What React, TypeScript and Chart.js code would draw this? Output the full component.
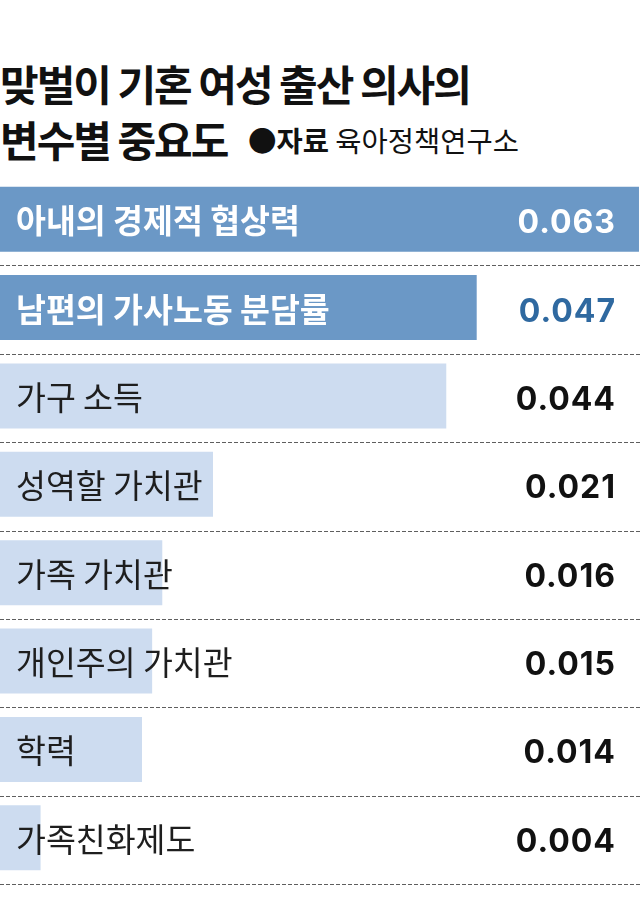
import React, { useEffect, useRef } from "react";
import { Chart, registerables } from "chart.js";

Chart.register(...registerables);

const titleLines = ["맞벌이 기혼 여성 출산 의사의", "변수별 중요도"];
const sourceLabel = "●자료";
const sourceName = "육아정책연구소";

const categories = [
  "아내의 경제적 협상력",
  "남편의 가사노동 분담률",
  "가구 소득",
  "성역할 가치관",
  "가족 가치관",
  "개인주의 가치관",
  "학력",
  "가족친화제도",
];
const importance = [0.063, 0.047, 0.044, 0.021, 0.016, 0.015, 0.014, 0.004];
const valueLabels = ["0.063", "0.047", "0.044", "0.021", "0.016", "0.015", "0.014", "0.004"];
const highlighted = [true, true, false, false, false, false, false, false];

const DARK = "#6b98c6";
const LIGHT = "#cddcf0";
const FONT = '"Noto Sans CJK KR", "Noto Sans", sans-serif';

const overlayPlugin = {
  id: "overlay",
  afterDatasetsDraw(chart: any) {
    const ctx = chart.ctx as CanvasRenderingContext2D;
    const meta = chart.getDatasetMeta(0);
    const yScale = chart.scales.y;
    const { left } = chart.chartArea;
    const pitch = Math.abs(yScale.getPixelForValue(1) - yScale.getPixelForValue(0));
    ctx.save();
    // dashed separators
    ctx.strokeStyle = "#5e5e5e";
    ctx.lineWidth = 1;
    ctx.setLineDash([4, 2]);
    categories.forEach((_, i) => {
      const y = Math.round(yScale.getPixelForValue(i) + pitch / 2 + 2) + 0.5;
      ctx.beginPath();
      ctx.moveTo(0, y);
      ctx.lineTo(chart.width, y);
      ctx.stroke();
    });
    ctx.setLineDash([]);
    meta.data.forEach((bar: any, i: number) => {
      const hi = highlighted[i];
      ctx.textBaseline = "alphabetic";
      ctx.textAlign = "left";
      (ctx as any).letterSpacing = "0px";
      ctx.font = `${hi ? "bold " : ""}32.5px ${FONT}`;
      ctx.fillStyle = hi ? "#ffffff" : "#1e1e1e";
      ctx.fillText(categories[i], left + 16, bar.y + 14);

      const ls = 1;
      (ctx as any).letterSpacing = ls + "px";
      ctx.font = `bold 32px Inter, Roboto, ${FONT}`;
      ctx.textAlign = "right";
      ctx.fillStyle = i === 0 ? "#ffffff" : i === 1 ? "#2f69a0" : "#111111";
      ctx.fillText(valueLabels[i], 615 + ls, bar.y + 14);
    });
    ctx.restore();
  },
};

export default function App() {
  const canvasRef = useRef<HTMLCanvasElement | null>(null);

  useEffect(() => {
    if (!canvasRef.current) return;
    const chart = new Chart(canvasRef.current, {
      type: "bar",
      data: {
        labels: categories,
        datasets: [
          {
            data: importance,
            backgroundColor: highlighted.map((h) => (h ? DARK : LIGHT)),
            borderWidth: 0,
            barPercentage: 0.736,
            categoryPercentage: 1,
          },
        ],
      },
      options: {
        indexAxis: "y",
        responsive: false,
        animation: false,
        layout: { padding: { top: 175, bottom: 26, left: 0, right: 0 } },
        scales: {
          x: { display: false, min: 0, max: 0.0631 },
          y: { display: false },
        },
        plugins: {
          legend: { display: false },
          tooltip: { enabled: false },
        },
      },
      plugins: [overlayPlugin],
    });
    return () => chart.destroy();
  }, []);

  return (
    <div
      style={{
        position: "absolute",
        left: 0,
        top: 0,
        width: 640,
        height: 908,
        background: "#ffffff",
        overflow: "hidden",
      }}
    >
      <div
        style={{
          position: "absolute",
          left: 0,
          top: 55,
          fontFamily: FONT,
          fontWeight: 700,
          fontSize: 42,
          letterSpacing: "-2px",
          lineHeight: "56px",
          color: "#111",
          whiteSpace: "nowrap",
        }}
      >
        {titleLines[0]}
        <br />
        {titleLines[1]}
      </div>
      <div
        style={{
          position: "absolute",
          left: 248,
          top: 112,
          fontFamily: FONT,
          fontSize: 28.5,
          lineHeight: "56px",
          color: "#111",
          whiteSpace: "nowrap",
        }}
      >
        <span style={{ fontWeight: 700 }}>{sourceLabel}</span>
        <span> {sourceName}</span>
      </div>
      <canvas
        ref={canvasRef}
        width={640}
        height={908}
        style={{ position: "absolute", left: 0, top: 0, display: "block" }}
      />
    </div>
  );
}
